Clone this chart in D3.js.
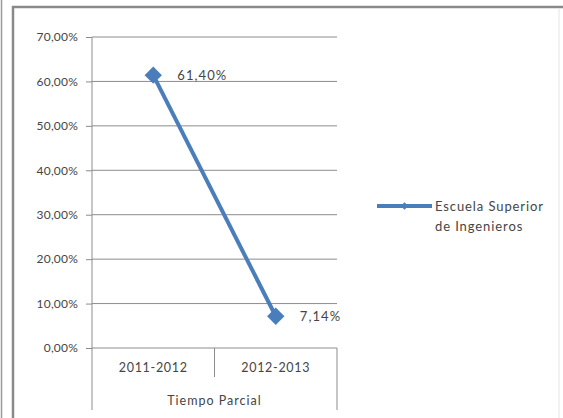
<!DOCTYPE html>
<html><head><meta charset="utf-8">
<script src="https://cdn.jsdelivr.net/npm/d3@7"></script>
<style>body{margin:0;background:#fff}svg{display:block}text{font-family:Lato,"Open Sans",sans-serif;fill:#454545}</style>
</head><body>
<script>
const categories = ["2011-2012", "2012-2013"];
const groupLabel = "Tiempo Parcial";
const seriesName = ["Escuela Superior", "de Ingenieros"];
const values = [61.40, 7.14];
const valueLabels = ["61,40%", "7,14%"];
const yTicks = [0, 10, 20, 30, 40, 50, 60, 70];

const W = 563, H = 418;
const svg = d3.select("body").append("svg").attr("width", W).attr("height", H);

// frame
svg.append("rect").attr("x",0).attr("y",0).attr("width",W).attr("height",H).attr("fill","#fff");
svg.append("line").attr("x1",1.5).attr("x2",1.5).attr("y1",0).attr("y2",H).attr("stroke","#9a9a9a").attr("stroke-width",1.5);
svg.append("line").attr("x1",13).attr("x2",13).attr("y1",6).attr("y2",H).attr("stroke","#8a8a8a").attr("stroke-width",2.5);
svg.append("line").attr("x1",12).attr("x2",W).attr("y1",7).attr("y2",7).attr("stroke","#8a8a8a").attr("stroke-width",2.5);
svg.append("line").attr("x1",559).attr("x2",559).attr("y1",8).attr("y2",H).attr("stroke","#e4e4e4").attr("stroke-width",1);

const x0 = 92, x1 = 337, y0 = 348, y1 = 37;
const x = d3.scaleBand().domain(categories).range([x0, x1]);
const y = d3.scaleLinear().domain([0, 70]).range([y0, y1]);

// gridlines
svg.append("g").selectAll("line").data(yTicks).join("line")
  .attr("x1", x0).attr("x2", x1).attr("y1", d => y(d)).attr("y2", d => y(d))
  .attr("stroke", "#8c8c8c").attr("stroke-width", 1);

// y axis
const yAxis = d3.axisLeft(y).tickValues(yTicks).tickSize(6).tickPadding(8)
  .tickFormat(d => d3.format(".2f")(d).replace(".", ",") + "%");
const gy = svg.append("g").attr("transform", `translate(${x0},0)`).call(yAxis);
gy.select(".domain").remove();
gy.selectAll(".tick line").attr("stroke", "#8c8c8c");
gy.selectAll("text").style("font-size", "12px").style("letter-spacing","0.2px").attr("fill", "#454545").attr("font-family", null);
svg.append("line").attr("x1",x0).attr("x2",x0).attr("y1",y1).attr("y2",410).attr("stroke","#8c8c8c");

// category axis (multi-level)
svg.append("line").attr("x1",x1).attr("x2",x1).attr("y1",y0).attr("y2",410).attr("stroke","#8c8c8c");
svg.append("g").selectAll("line").data(categories.slice(1)).join("line")
  .attr("x1", d => x(d)).attr("x2", d => x(d)).attr("y1", y0).attr("y2", 377).attr("stroke", "#8c8c8c");
svg.append("g").selectAll("text").data(categories).join("text")
  .attr("x", d => x(d) + x.bandwidth()/2).attr("y", 368).attr("dy","0.35em")
  .attr("text-anchor","middle").style("font-size","12.5px").style("letter-spacing","0.7px").text(d => d);
svg.append("text").attr("x",(x0+x1)/2).attr("y",401).attr("dy","0.35em")
  .attr("text-anchor","middle").style("font-size","12.5px").style("letter-spacing","1px").text(groupLabel);

// line
const color = "#4a7ebb";
const line = d3.line().x((d,i) => x(categories[i]) + x.bandwidth()/2).y(d => y(d));
svg.append("path").datum(values).attr("d", line).attr("fill","none")
  .attr("stroke", color).attr("stroke-width", 4).attr("stroke-linejoin","round");
svg.append("g").selectAll("path").data(values).join("path")
  .attr("d", d3.symbol().type(d3.symbolSquare).size(150))
  .attr("transform",(d,i)=>`translate(${x(categories[i]) + x.bandwidth()/2},${y(d)}) rotate(45)`)
  .attr("fill", color);

// data labels
svg.append("g").selectAll("text").data(values).join("text")
  .attr("x",(d,i) => x(categories[i]) + x.bandwidth()/2 + 24).attr("y", d => y(d)).attr("dy","0.35em")
  .style("font-size","13px").style("letter-spacing","1.1px").text((d,i) => valueLabels[i]);

// legend
const lg = svg.append("g");
lg.append("line").attr("x1",377).attr("x2",432).attr("y1",206).attr("y2",206).attr("stroke",color).attr("stroke-width",4);
lg.append("path").attr("d", d3.symbol().type(d3.symbolSquare).size(30)).attr("transform","translate(404.5,206) rotate(45)").attr("fill",color);
lg.selectAll("text").data(seriesName).join("text")
  .attr("x",435).attr("y",(d,i) => 206 + i*20).attr("dy","0.35em")
  .style("font-size","13px").style("letter-spacing","0.9px").text(d => d);
</script>
</body></html>
